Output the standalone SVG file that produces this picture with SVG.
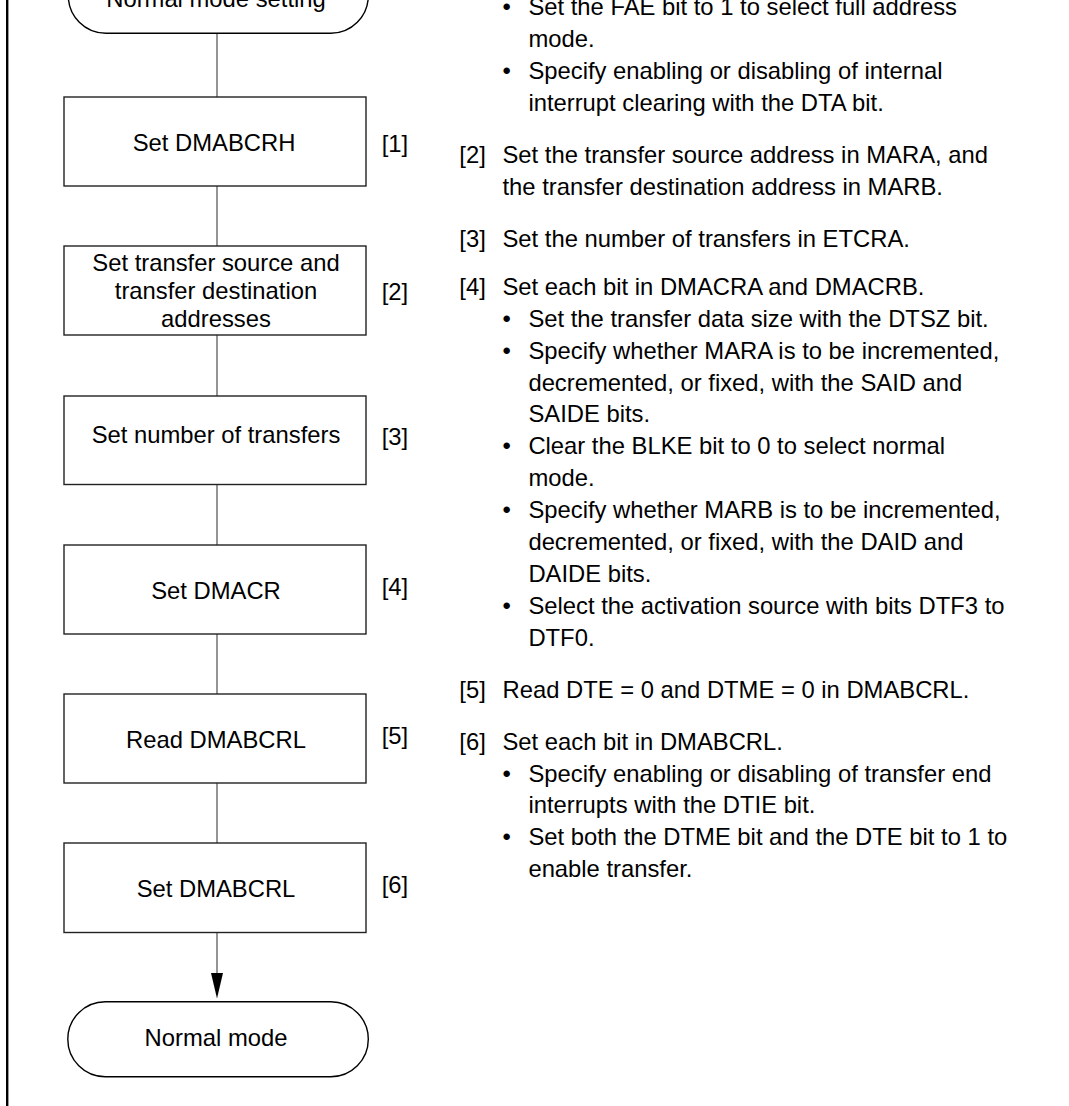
<svg xmlns="http://www.w3.org/2000/svg" width="1069" height="1106" viewBox="0 0 1069 1106">
<defs>
<style>
text{font-family:"Liberation Sans",Arial,Helvetica,sans-serif;font-size:23.8px;fill:#000}
.c{text-anchor:middle}
.box{fill:#fff;stroke:#222;stroke-width:1.4}
.term{fill:#fff;stroke:#000;stroke-width:1.4}
.conn{stroke:#7a7a7a;stroke-width:1.6;fill:none}
</style>
<marker id="ah" viewBox="0 0 12 26" refX="6" refY="26" markerWidth="12" markerHeight="26" markerUnits="userSpaceOnUse" orient="auto-start-reverse">
<path d="M0,0 L12,0 L6,26 Z" fill="#000"/>
</marker>
</defs>
<rect width="1069" height="1106" fill="#fff"/>
<line x1="7.2" y1="0" x2="7.2" y2="1106" stroke="#000" stroke-width="2.4"/>

<g id="connectors">
<line class="conn" x1="217" y1="33.5" x2="217" y2="97"/>
<line class="conn" x1="217" y1="186" x2="217" y2="246"/>
<line class="conn" x1="217" y1="335" x2="217" y2="396"/>
<line class="conn" x1="217" y1="485" x2="217" y2="545"/>
<line class="conn" x1="217" y1="634" x2="217" y2="694"/>
<line class="conn" x1="217" y1="783" x2="217" y2="843"/>
<line class="conn" x1="217" y1="932" x2="217" y2="974"/>
<path d="M211,973 L223,973 L217,998.5 Z" fill="#000"/>
</g>

<g id="start">
<rect class="term" x="68.3" y="-42" width="300" height="75.3" rx="37.6" ry="37.6"/>
<text class="c" x="216" y="7">Normal mode setting</text>
</g>
<g id="step1">
<rect class="box" x="64" y="97" width="302" height="89"/>
<text class="c" x="214" y="150.7">Set DMABCRH</text>
<text x="381.7" y="152">[1]</text>
</g>
<g id="step2">
<rect class="box" x="64" y="246" width="302" height="89"/>
<text class="c" x="216" y="270.7">Set transfer source and</text>
<text class="c" x="216" y="299">transfer destination</text>
<text class="c" x="216" y="326.7">addresses</text>
<text x="381.7" y="300">[2]</text>
</g>
<g id="step3">
<rect class="box" x="64" y="396" width="302" height="88.5"/>
<text class="c" x="216" y="443.3">Set number of transfers</text>
<text x="381.7" y="445">[3]</text>
</g>
<g id="step4">
<rect class="box" x="64" y="545" width="302" height="89"/>
<text class="c" x="216" y="599">Set DMACR</text>
<text x="381.7" y="595">[4]</text>
</g>
<g id="step5">
<rect class="box" x="64" y="694" width="302" height="89"/>
<text class="c" x="216" y="748.3">Read DMABCRL</text>
<text x="381.7" y="743.5">[5]</text>
</g>
<g id="step6">
<rect class="box" x="64" y="843" width="302" height="89.5"/>
<text class="c" x="216" y="896.7">Set DMABCRL</text>
<text x="381.7" y="892.5">[6]</text>
</g>
<g id="end">
<rect class="term" x="67.8" y="1001.7" width="300.5" height="75" rx="37.5" ry="37.5"/>
<text class="c" x="216" y="1045.7">Normal mode</text>
</g>

<g id="notes">
<text x="502.5" y="15">•</text><text x="528.4" y="15">Set the FAE bit to 1 to select full address</text>
<text x="528.4" y="47">mode.</text>
<text x="502.5" y="79">•</text><text x="528.4" y="79">Specify enabling or disabling of internal</text>
<text x="528.4" y="111">interrupt clearing with the DTA bit.</text>

<text x="459.3" y="163">[2]</text><text x="502.5" y="163">Set the transfer source address in MARA, and</text>
<text x="502.5" y="195">the transfer destination address in MARB.</text>

<text x="459.3" y="246.5">[3]</text><text x="502.5" y="246.5">Set the number of transfers in ETCRA.</text>

<text x="459.3" y="294.5">[4]</text><text x="502.5" y="294.5">Set each bit in DMACRA and DMACRB.</text>
<text x="502.5" y="326.5">•</text><text x="528.4" y="326.5">Set the transfer data size with the DTSZ bit.</text>
<text x="502.5" y="358.5">•</text><text x="528.4" y="358.5">Specify whether MARA is to be incremented,</text>
<text x="528.4" y="390.5">decremented, or fixed, with the SAID and</text>
<text x="528.4" y="422">SAIDE bits.</text>
<text x="502.5" y="454">•</text><text x="528.4" y="454">Clear the BLKE bit to 0 to select normal</text>
<text x="528.4" y="486">mode.</text>
<text x="502.5" y="518">•</text><text x="528.4" y="518">Specify whether MARB is to be incremented,</text>
<text x="528.4" y="549.5">decremented, or fixed, with the DAID and</text>
<text x="528.4" y="581.5">DAIDE bits.</text>
<text x="502.5" y="613.5">•</text><text x="528.4" y="613.5">Select the activation source with bits DTF3 to</text>
<text x="528.4" y="645.5">DTF0.</text>

<text x="459.3" y="698">[5]</text><text x="502.5" y="698">Read DTE = 0 and DTME = 0 in DMABCRL.</text>

<text x="459.3" y="749.5">[6]</text><text x="502.5" y="749.5">Set each bit in DMABCRL.</text>
<text x="502.5" y="781.5">•</text><text x="528.4" y="781.5">Specify enabling or disabling of transfer end</text>
<text x="528.4" y="813">interrupts with the DTIE bit.</text>
<text x="502.5" y="845">•</text><text x="528.4" y="845">Set both the DTME bit and the DTE bit to 1 to</text>
<text x="528.4" y="877">enable transfer.</text>
</g>
</svg>
